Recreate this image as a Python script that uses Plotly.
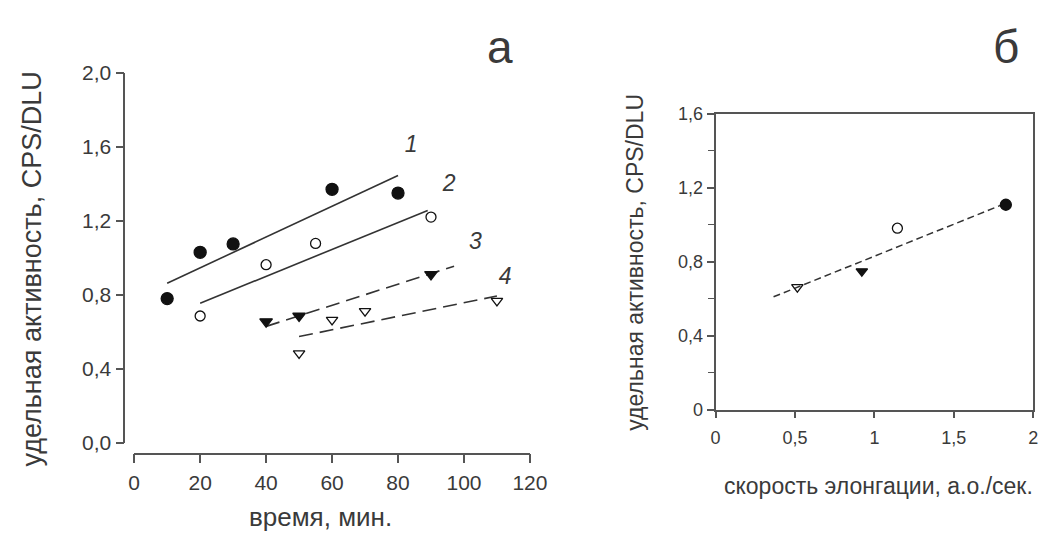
import plotly.graph_objects as go

# ---- Panel а: specific activity vs time ----
s1_x = [10, 20, 30, 60, 80]
s1_y = [0.78, 1.03, 1.075, 1.37, 1.35]
s2_x = [20, 40, 55, 90]
s2_y = [0.686, 0.963, 1.078, 1.22]
s3_x = [40, 50, 90]
s3_y = [0.656, 0.686, 0.911]
s4_x = [50, 60, 70, 110]
s4_y = [0.484, 0.665, 0.712, 0.768]

fit1_x = [10, 80]
fit1_y = [0.863, 1.445]
fit2_x = [20, 89]
fit2_y = [0.755, 1.256]
fit3_x = [40, 97]
fit3_y = [0.630, 0.955]
fit4_x = [50, 110]
fit4_y = [0.575, 0.794]

curve_labels = ["1", "2", "3", "4"]
curve_label_x = [84, 95.5, 103.5, 112.5]
curve_label_y = [1.60, 1.39, 1.08, 0.89]

a_xticks = [0, 20, 40, 60, 80, 100, 120]
a_yticks = [0.0, 0.4, 0.8, 1.2, 1.6, 2.0]
a_yticktext = ["0,0", "0,4", "0,8", "1,2", "1,6", "2,0"]

# ---- Panel б: specific activity vs elongation rate ----
b_x = [0.515, 0.921, 1.145, 1.828]
b_y = [0.662, 0.748, 0.981, 1.108]
b_symbols = ["triangle-down-open", "triangle-down", "circle-open", "circle"]
b_fit_x = [0.365, 1.828]
b_fit_y = [0.610, 1.116]

b_xticks = [0, 0.5, 1, 1.5, 2]
b_xticktext = ["0", "0,5", "1", "1,5", "2"]
b_yticks = [0, 0.4, 0.8, 1.2, 1.6]
b_yticktext = ["0", "0,4", "0,8", "1,2", "1,6"]

W, H = 1050, 537
FONT = "Liberation Sans, Arial, sans-serif"
TXT = "#3a3a3a"
AX = "#555555"
INK = "#111111"

fig = go.Figure()

def add_line(x, y, dash, xa="x", ya="y", width=1.6):
    fig.add_trace(go.Scatter(x=x, y=y, mode="lines", xaxis=xa, yaxis=ya,
                             line=dict(color="#333333", width=width, dash=dash),
                             showlegend=False, hoverinfo="skip"))

add_line(fit1_x, fit1_y, "solid")
add_line(fit2_x, fit2_y, "solid")
add_line(fit3_x, fit3_y, "14px,7px")
add_line(fit4_x, fit4_y, "14px,7px")

def add_pts(x, y, symbol, size, xa="x", ya="y"):
    fig.add_trace(go.Scatter(x=x, y=y, mode="markers", xaxis=xa, yaxis=ya,
                             marker=dict(symbol=symbol, size=size, color=INK,
                                         line=dict(color=INK, width=1.3)),
                             showlegend=False))

add_pts(s1_x, s1_y, "circle", 12)
add_pts(s2_x, s2_y, "circle-open", 10)
add_pts(s3_x, s3_y, "triangle-down", 11)
add_pts(s4_x, s4_y, "triangle-down-open", 10)

fig.add_trace(go.Scatter(x=curve_label_x, y=curve_label_y, mode="text",
                         text=["<i>%s</i>" % t for t in curve_labels],
                         textfont=dict(family=FONT, size=23, color=TXT),
                         showlegend=False, hoverinfo="skip"))

add_line(b_fit_x, b_fit_y, "7px,4px", "x2", "y2", 1.5)
for xv, yv, sym in zip(b_x, b_y, b_symbols):
    add_pts([xv], [yv], sym, 11 if sym == "circle" else 10, "x2", "y2")

def px_x(p):
    return p / W

def px_y(p):
    return 1 - p / H

tickfont_a = dict(family=FONT, size=21, color=TXT)
tickfont_b = dict(family=FONT, size=18, color=TXT)

fig.update_layout(
    width=W, height=H, autosize=False,
    margin=dict(l=0, r=0, t=0, b=0),
    paper_bgcolor="white", plot_bgcolor="white",
    showlegend=False,
    xaxis=dict(domain=[px_x(123), px_x(528)], range=[0, 120],
               anchor="free", position=px_y(453),
               tickvals=a_xticks, ticks="outside", ticklen=9, tickwidth=1.5,
               tickcolor=AX, showline=True, linecolor=AX, linewidth=1.8,
               showgrid=False, zeroline=False, tickfont=tickfont_a,
               ticklabelstandoff=1),
    yaxis=dict(domain=[px_y(442), px_y(55)], range=[0, 2.0],
               anchor="free", position=px_x(113),
               tickvals=a_yticks, ticktext=a_yticktext,
               ticks="outside", ticklen=8, tickwidth=1.5,
               tickcolor=AX, showline=True, linecolor=AX, linewidth=1.8,
               showgrid=False, zeroline=False, tickfont=tickfont_a),
    xaxis2=dict(domain=[px_x(718), px_x(1043)], range=[0, 2],
                anchor="y2", tickvals=b_xticks, ticktext=b_xticktext,
                ticks="outside", ticklen=7, tickwidth=1.5, tickcolor=AX,
                showline=True, mirror=True, linecolor=AX, linewidth=1.8,
                showgrid=False, zeroline=False, tickfont=tickfont_b,
                ticklabelstandoff=4),
    yaxis2=dict(domain=[px_y(407), px_y(98)], range=[0, 1.6],
                anchor="x2", tickvals=b_yticks, ticktext=b_yticktext,
                ticks="outside", ticklen=7, tickwidth=1.5, tickcolor=AX,
                minor=dict(tickvals=[0.2, 0.6, 1.0, 1.4], ticks="outside",
                           ticklen=6, tickwidth=1.3, tickcolor=AX),
                showline=True, mirror=True, linecolor=AX, linewidth=1.8,
                showgrid=False, zeroline=False, tickfont=tickfont_b),
)

annots = [
    dict(text="время, мин.", x=px_x(314), y=px_y(519), size=26),
    dict(text="скорость элонгации, а.о./сек.", x=px_x(885), y=px_y(487), size=23),
]
for a in annots:
    fig.add_annotation(text=a["text"], x=a["x"], y=a["y"], xref="paper", yref="paper",
                       xanchor="center", yanchor="middle", showarrow=False,
                       font=dict(family=FONT, size=a["size"], color=TXT))

# panel letters, anchored at their top so that they stay inside the page
for letter, xc in (("а", 497), ("б", 1015)):
    fig.add_annotation(text=letter, x=px_x(xc), y=1, xref="paper", yref="paper",
                       xanchor="center", yanchor="top", showarrow=False,
                       borderpad=0,
                       font=dict(family=FONT, size=46, color=TXT))

fig.add_annotation(text="удельная активность, CPS/DLU", x=px_x(18), y=px_y(260),
                   xref="paper", yref="paper", xanchor="center", yanchor="middle",
                   showarrow=False, textangle=-90,
                   font=dict(family=FONT, size=27, color=TXT))
fig.add_annotation(text="удельная активность, CPS/DLU", x=px_x(636), y=px_y(253),
                   xref="paper", yref="paper", xanchor="center", yanchor="middle",
                   showarrow=False, textangle=-90,
                   font=dict(family=FONT, size=23, color=TXT))

fig.write_html("out.html")
